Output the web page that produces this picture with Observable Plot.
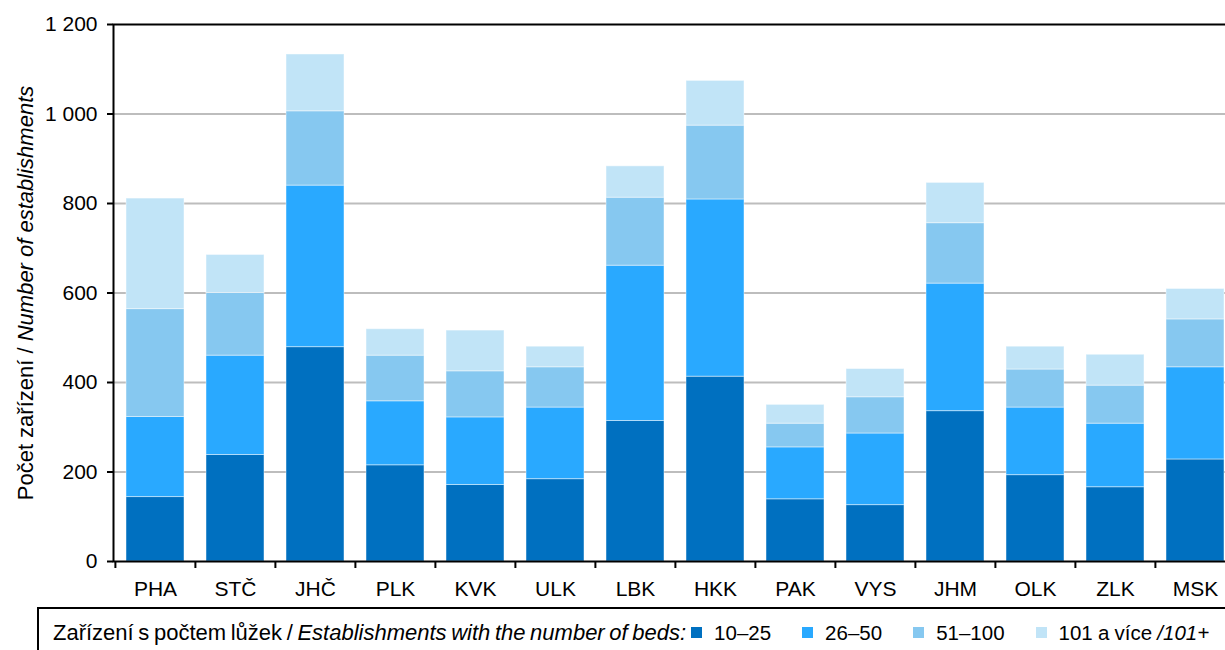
<!DOCTYPE html>
<html>
<head>
<meta charset="utf-8">
<script src="https://cdn.jsdelivr.net/npm/d3@7"></script>
<script src="https://cdn.jsdelivr.net/npm/@observablehq/plot@0.6"></script>
<style>
  html, body { margin: 0; padding: 0; overflow: hidden; background: #fff; width: 1225px; height: 650px; }
  #wrap { position: relative; width: 1225px; height: 650px; overflow: hidden; font-family: "Liberation Sans", Arial, sans-serif; }
  #chart { position: absolute; left: 0; top: 0; }
  #legend { position: absolute; left: 37px; top: 607px; width: 1300px; height: 80px;
    border-top: 2px solid #000; border-left: 2px solid #000; box-sizing: border-box;
    font-size: 22px; color: #000; white-space: nowrap; padding-left: 14px; padding-top: 11px; word-spacing: -1.5px; }
  #legend .item { font-size: 20.5px; word-spacing: -0.5px; }
  #legend .sw { display: inline-block; width: 11px; height: 11px; margin-right: 12px; vertical-align: 2px; }
</style>
</head>
<body>
<div id="wrap">
  <div id="chart"></div>
  <div id="legend"></div>
</div>
<script>
const categories = ["PHA","STČ","JHČ","PLK","KVK","ULK","LBK","HKK","PAK","VYS","JHM","OLK","ZLK","MSK"];
const seriesNames = ["10–25", "26–50", "51–100", "101 a více /101+"];
const beds10_25   = [144, 238, 479, 215, 171, 184, 314, 413, 139, 126, 336, 193, 166, 228];
const beds26_50   = [179, 222, 361, 143, 151, 160, 347, 396, 116, 160, 285, 151, 142, 206];
const beds51_100  = [241, 140, 166, 102, 103,  90, 152, 165,  53,  81, 135,  85,  85, 107];
const beds101plus = [247,  85, 127,  59,  91,  46,  70, 100,  42,  63,  90,  51,  69,  68];
const yTicks = [0, 200, 400, 600, 800, 1000, 1200];
const colors = ["#0070C0", "#29A9FF", "#86C8F0", "#C1E4F7"];

const seriesValues = [beds10_25, beds26_50, beds51_100, beds101plus];
const data = [];
categories.forEach((c, i) => {
  seriesValues.forEach((vals, s) => data.push({cat: c, series: seriesNames[s], value: vals[i]}));
});

const W = 1240, ML = 113, MR = 4;
const step = (W - ML - MR) / categories.length;
const fmt = d3.formatLocale({decimal: ",", thousands: " ", grouping: [3], currency: ["", ""]}).format(",d");

const plot = Plot.plot({
  width: W,
  height: 607,
  marginLeft: ML,
  marginRight: MR,
  marginTop: 24,
  marginBottom: 46,
  style: {fontFamily: "'Liberation Sans', Arial, sans-serif", fontSize: "21px", color: "#000", background: "#fff", overflow: "visible", maxWidth: "none"},
  x: {domain: categories, paddingInner: 0.275, paddingOuter: 0.1375, label: null},
  y: {domain: [0, 1200], label: null},
  color: {domain: seriesNames, range: colors},
  marks: [
    Plot.gridY(yTicks.filter(d => d > 0 && d < 1200), {stroke: "#bdbdbd", strokeWidth: 2, strokeOpacity: 1}),
    Plot.barY(data, {x: "cat", y: "value", fill: "series", stroke: "#ffffff", strokeOpacity: 0.45, strokeWidth: 1}),
    Plot.frame({stroke: "#000", strokeWidth: 2}),
    Plot.axisY({ticks: yTicks, tickFormat: fmt, tickSize: 6, tickPadding: 10, stroke: "#000", strokeWidth: 2,
      label: "Počet zařízení / Number of establishments", labelAnchor: "center", labelArrow: "none", labelOffset: 96}),
    Plot.axisX({tickSize: 0, tickPadding: 20, label: null}),
    Plot.axisX({tickSize: 7, text: null, stroke: "#000", strokeWidth: 2, dx: -step / 2, label: null})
  ]
});
document.getElementById("chart").appendChild(plot);

// mixed styling for the y-axis title
d3.select(plot).selectAll('g[aria-label="y-axis label"] text').each(function() {
  const t = d3.select(this);
  t.text(null).attr("font-size", "22px");
  t.append("tspan").text("Počet zařízení / ");
  t.append("tspan").attr("font-style", "italic").text("Number of establishments");
});

// legend
const lg = d3.select("#legend");
lg.append("span").text("Zařízení s počtem lůžek / ");
lg.append("span").style("font-style", "italic").text("Establishments with the number of beds:");
seriesNames.forEach((s, i) => {
  const item = lg.append("span").attr("class", "item").style("margin-left", i === 0 ? "5px" : "31px");
  item.append("span").attr("class", "sw").style("background", colors[i]);
  if (i === 3) {
    item.append("span").text("101 a více ");
    item.append("span").style("font-style", "italic").text("/101+");
  } else {
    item.append("span").text(s);
  }
});
</script>
</body>
</html>
